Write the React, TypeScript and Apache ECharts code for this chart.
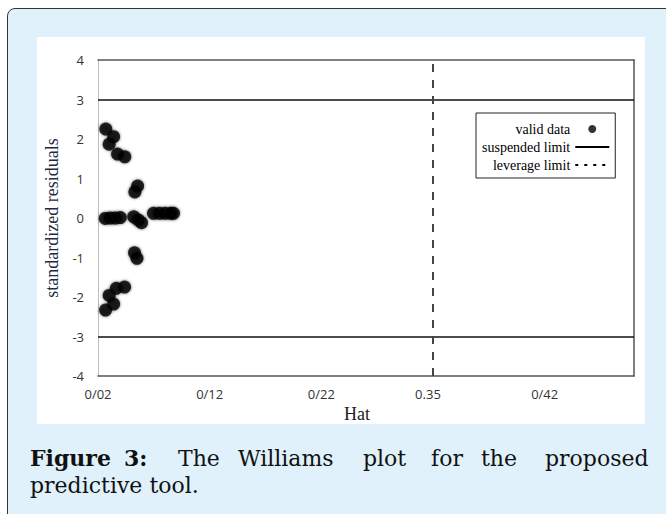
import React, { useEffect, useRef } from "react";
import * as echarts from "echarts";

// ---- data ----
const hatValues = [
  0.027, 0.034, 0.03, 0.0375, 0.044,
  0.0555, 0.053,
  0.0265, 0.031, 0.0355, 0.04, 0.052, 0.056, 0.059, 0.0697, 0.075, 0.08, 0.085, 0.0876,
  0.0527, 0.0549, 0.0438, 0.0364, 0.03, 0.034, 0.0268,
];
const residualValues = [
  2.25, 2.06, 1.87, 1.62, 1.55,
  0.81, 0.66,
  -0.01, 0.0, 0.0, 0.01, 0.03, -0.05, -0.12, 0.12, 0.12, 0.12, 0.12, 0.12,
  -0.88, -1.02, -1.75, -1.78, -1.96, -2.18, -2.33,
];
const xTickValues = [0.02, 0.12, 0.22, 0.3155, 0.42];
const xTickLabels = ["0/02", "0/12", "0/22", "0.35", "0/42"];
const xMin = 0.02;
const xMax = 0.5;
const yMin = -4;
const yMax = 4;
const suspendedLimits = [3, -3];
const leverageLinePos = 0.315;

const captionBold = [
  { text: "Figure", x: 30 },
  { text: "3:", x: 124 },
];
const captionWords = [
  { text: "The", x: 178 },
  { text: "Williams", x: 238 },
  { text: "plot", x: 363 },
  { text: "for", x: 431 },
  { text: "the", x: 481 },
  { text: "proposed", x: 545 },
];
const captionLine2 = "predictive tool.";

export default function App() {
  const ref = useRef<HTMLDivElement>(null);

  useEffect(() => {
    document.body.style.margin = "0";
    if (!ref.current) return;
    const chart = echarts.init(ref.current, null, { renderer: "svg" });
    const points = hatValues.map((h, i) => [h, residualValues[i]]);
    const serif = "'Liberation Serif', 'Times New Roman', serif";
    const capFont = "'DejaVu Serif', serif";

    const graphicTexts: any[] = [];
    captionBold.forEach((w) =>
      graphicTexts.push({
        type: "text",
        left: w.x,
        top: 447,
        style: { text: w.text, font: `bold 22px ${capFont}`, fill: "#111" },
      })
    );
    captionWords.forEach((w) =>
      graphicTexts.push({
        type: "text",
        left: w.x,
        top: 447,
        style: { text: w.text, font: `22px ${capFont}`, fill: "#111" },
      })
    );
    graphicTexts.push({
      type: "text",
      left: 30,
      top: 474,
      style: { text: captionLine2, font: `22px ${capFont}`, fill: "#111" },
    });

    const hiddenSymbol = { color: "rgba(0,0,0,0)", borderWidth: 0 };

    chart.setOption({
      animation: false,
      grid: { left: 98, top: 60, width: 536, height: 316, containLabel: false },
      legend: {
        orient: "vertical",
        left: 476,
        top: 113,
        align: "right",
        selectedMode: false,
        borderColor: "#222",
        borderWidth: 1,
        padding: [9, 5, 6, 6],
        itemWidth: 34,
        itemHeight: 8,
        itemGap: 4,
        textStyle: { fontFamily: serif, fontSize: 14, color: "#000" },
        data: [
          { name: "valid data" },
          { name: "suspended limit", itemStyle: hiddenSymbol },
          { name: "leverage limit", itemStyle: hiddenSymbol },
        ],
      },
      xAxis: [
        {
          type: "value",
          min: xMin,
          max: xMax,
          position: "bottom",
          splitLine: { show: false },
          axisTick: { show: false },
          axisLine: { show: true, onZero: false, lineStyle: { color: "#555", width: 1.5 } },
          axisLabel: {
            customValues: xTickValues,
            margin: 11,
            color: "#333",
            fontFamily: "'Open Sans', sans-serif",
            fontSize: 13,
            formatter: (v: number) => {
              const i = xTickValues.findIndex((t) => Math.abs(t - v) < 1e-6);
              return i >= 0 ? xTickLabels[i] : "";
            },
          },
          name: "Hat",
          nameLocation: "middle",
          nameGap: 24,
          nameTextStyle: { fontFamily: serif, fontSize: 18, color: "#222", padding: [0, 18, 0, 0] },
        },
        {
          type: "value",
          min: xMin,
          max: xMax,
          position: "top",
          splitLine: { show: false },
          axisTick: { show: false },
          axisLabel: { show: false },
          axisLine: { show: true, onZero: false, lineStyle: { color: "#555", width: 1.5 } },
        },
      ],
      yAxis: [
        {
          type: "value",
          min: yMin,
          max: yMax,
          interval: 1,
          position: "left",
          splitLine: { show: false },
          axisTick: { show: false },
          axisLine: { show: true, onZero: false, lineStyle: { color: "#bdbdbd", width: 1 } },
          axisLabel: {
            margin: 14,
            color: "#333",
            fontFamily: "'Open Sans', sans-serif",
            fontSize: 13,
          },
          name: "standardized residuals",
          nameLocation: "middle",
          nameGap: 21,
          nameTextStyle: { fontFamily: serif, fontSize: 18, color: "#1f2a44" },
        },
        {
          type: "value",
          min: yMin,
          max: yMax,
          position: "right",
          splitLine: { show: false },
          axisTick: { show: false },
          axisLabel: { show: false },
          axisLine: { show: true, onZero: false, lineStyle: { color: "#555", width: 1.5 } },
        },
      ],
      series: [
        {
          name: "valid data",
          type: "scatter",
          data: points,
          symbol: "circle",
          symbolSize: 13,
          itemStyle: { color: "#000", shadowBlur: 3, shadowColor: "rgba(0,0,0,0.7)" },
          z: 5,
        },
        {
          name: "suspended limit",
          type: "line",
          data: [],
          symbol: "none",
          itemStyle: { color: "#000" },
          lineStyle: { color: "#000", width: 1, type: "solid" },
          markLine: {
            silent: true,
            symbol: "none",
            label: { show: false },
            lineStyle: { color: "#111", width: 1.5, type: "solid" },
            data: suspendedLimits.map((v) => ({ yAxis: v })),
          },
        },
        {
          name: "leverage limit",
          type: "line",
          data: [],
          symbol: "none",
          itemStyle: { color: "#000" },
          lineStyle: { color: "#000", width: 1, type: [3, 6] },
          markLine: {
            silent: true,
            symbol: "none",
            label: { show: false },
            lineStyle: { color: "#444", width: 2, type: [8, 8] },
            data: [{ xAxis: leverageLinePos }],
          },
        },
      ],
      graphic: { elements: graphicTexts },
    });
    return () => chart.dispose();
  }, []);

  return (
    <div style={{ position: "relative", width: 666, height: 514, overflow: "hidden", background: "#fff" }}>
      <div
        style={{
          position: "absolute",
          left: 7,
          top: 8,
          width: 720,
          height: 620,
          background: "#e0f1fb",
          border: "1.5px solid #333",
          borderRadius: 8,
          boxSizing: "border-box",
        }}
      />
      <div style={{ position: "absolute", left: 37, top: 37, width: 608, height: 387, background: "#fff" }} />
      <div ref={ref} style={{ position: "absolute", left: 0, top: 0, width: 666, height: 514 }} />
    </div>
  );
}
